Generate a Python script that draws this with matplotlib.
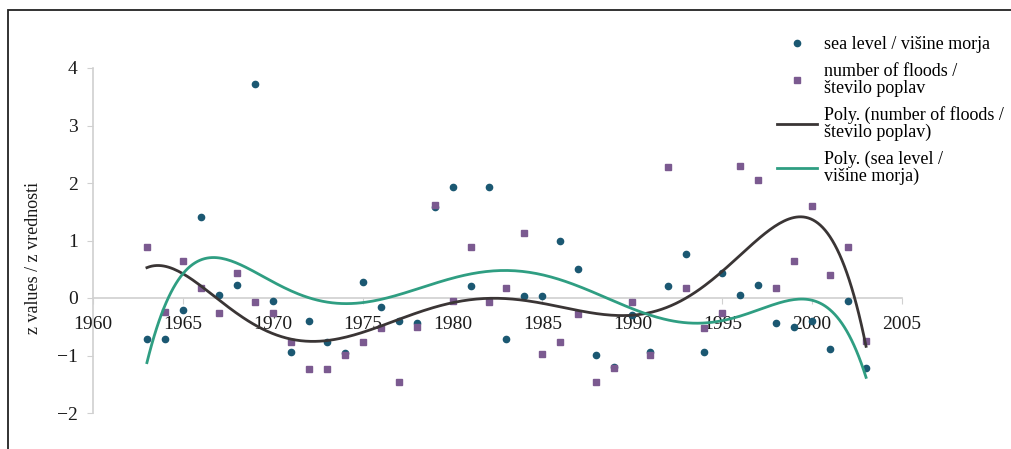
#!/usr/bin/env python3
"""sea level vs number of floods, z values with 6th order poly trendlines."""

import numpy as np
import matplotlib.pyplot as plt
from matplotlib.patches import Rectangle

plt.rcParams["font.family"] = ["Liberation Serif", "DejaVu Serif"]

YEARS = list(range(1963, 2004))

SEA_LEVEL = [
    -0.71, -0.71, -0.21, 1.41, 0.05, 0.23, 3.73, -0.05, -0.94, -0.40,
    -0.77, -0.95, 0.28, -0.16, -0.40, -0.44, 1.58, 1.93, 0.21, 1.93,
    -0.72, 0.03, 0.03, 0.99, 0.50, -0.99, -1.20, -0.30, -0.94, 0.21,
    0.77, -0.94, 0.44, 0.05, 0.23, -0.43, -0.51, -0.40, -0.88, -0.05,
    -1.22,
]

FLOODS = [
    0.89, -0.25, 0.64, 0.17, -0.26, 0.43, -0.07, -0.26, -0.77, -1.23,
    -1.24, -0.99, -0.77, -0.52, -1.46, -0.50, 1.62, -0.05, 0.89, -0.07,
    0.17, 1.13, -0.98, -0.77, -0.28, -1.46, -1.22, -0.07, -0.99, 2.28,
    0.17, -0.52, -0.26, 2.30, 2.06, 0.17, 0.64, 1.60, 0.40, 0.89,
    -0.75,
]

X_TICKS = [1960, 1965, 1970, 1975, 1980, 1985, 1990, 1995, 2000, 2005]
Y_TICKS = [-2, -1, 0, 1, 2, 3, 4]

LBL_SEA = "sea level / višine morja"
LBL_FLOODS = "number of floods /\nštevilo poplav"
LBL_POLY_FLOODS = "Poly. (number of floods /\nštevilo poplav)"
LBL_POLY_SEA = "Poly. (sea level /\nvišine morja)"

C_SEA = "#1b5872"
C_FLOODS = "#7b5a90"
C_POLY_FLOODS = "#3a3535"
C_POLY_SEA = "#2f9e82"
C_AXIS = "#d0d0d0"


def poly_trend(x, y, order=6):
    """excel-style polynomial trendline."""
    x = np.asarray(x, dtype=float)
    xc = x.mean()
    coef = np.polyfit(x - xc, np.asarray(y, dtype=float), order)
    xs = np.linspace(x.min(), x.max(), 300)
    return xs, np.polyval(coef, xs - xc)


fig = plt.figure(figsize=(10.11, 4.49), dpi=100)
ax = fig.add_axes([93 / 1011, 36 / 449, 809 / 1011, 345 / 449])

ax.plot(YEARS, SEA_LEVEL, "o", ms=4.5, color=C_SEA, label=LBL_SEA, zorder=3)
ax.plot(YEARS, FLOODS, "s", ms=4.5, color=C_FLOODS, label=LBL_FLOODS, zorder=3)

xs, ys = poly_trend(YEARS, FLOODS)
ax.plot(xs, ys, color=C_POLY_FLOODS, lw=2, label=LBL_POLY_FLOODS, zorder=4)
xs, ys = poly_trend(YEARS, SEA_LEVEL)
ax.plot(xs, ys, color=C_POLY_SEA, lw=2, label=LBL_POLY_SEA, zorder=4)

ax.set_xlim(1960, 2005)
ax.set_ylim(-2, 4)
ax.set_xticks(X_TICKS)
ax.set_yticks(Y_TICKS)
ax.set_yticklabels(["\u22122", "\u22121", "0", "1", "2", "3", "4"])

ax.spines["top"].set_visible(False)
ax.spines["right"].set_visible(False)
ax.spines["bottom"].set_position(("data", 0))
ax.spines["bottom"].set_color(C_AXIS)
ax.spines["left"].set_color(C_AXIS)
ax.spines["bottom"].set_linewidth(1.2)
ax.spines["left"].set_linewidth(1.2)
ax.tick_params(axis="both", colors=C_AXIS, labelcolor="#1a1a1a", labelsize=14, length=4)
ax.tick_params(axis="x", pad=9)
ax.tick_params(axis="y", pad=7)

ax.set_ylabel("z values / z vrednosti", fontsize=13, color="#1a1a1a")
ax.yaxis.set_label_coords(-0.063, 0.45)

leg = fig.legend(loc="upper left", bbox_to_anchor=(770 / 1011, 1 - 29 / 449), frameon=False,
                 fontsize=13, handlelength=2.2, handletextpad=0.4, labelspacing=0.55,
                 borderaxespad=0)
for t in leg.get_texts():
    t.set_linespacing(0.95)

# outer frame (cut off on the right and bottom like the source)
fig.patches.append(Rectangle((8 / 1011, -0.05), 1.1, 1 - 10 / 449 + 0.05, transform=fig.transFigure,
                             fill=False, edgecolor="#222222", lw=1.3))

fig.savefig("out.png", dpi=100)
